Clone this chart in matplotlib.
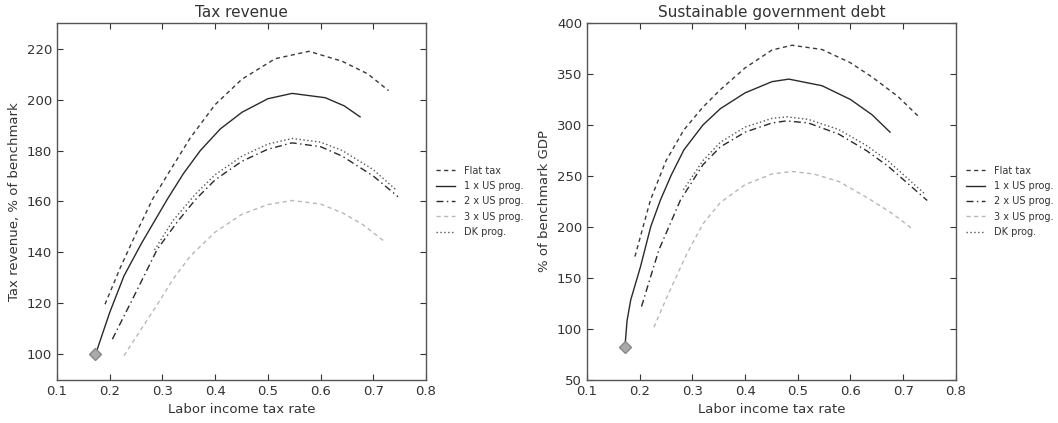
import matplotlib
matplotlib.use("Agg")
import matplotlib.pyplot as plt

# Tax revenue panel (% of benchmark)
rev_flat_x = [0.191, 0.22, 0.25, 0.281, 0.32, 0.353, 0.40, 0.451, 0.514, 0.578, 0.641, 0.69, 0.729]
rev_flat_y = [119.7, 134.0, 147.5, 160.8, 174.0, 185.0, 198.0, 208.0, 216.0, 218.9, 215.0, 210.0, 203.5]

rev_us1_x = [0.173, 0.20, 0.227, 0.26, 0.309, 0.34, 0.372, 0.41, 0.451, 0.50, 0.546, 0.609, 0.645, 0.675]
rev_us1_y = [100.0, 116.5, 130.8, 143.5, 160.8, 171.0, 180.0, 188.5, 195.0, 200.3, 202.4, 200.7, 197.5, 193.2]

rev_us2_x = [0.205, 0.25, 0.290, 0.33, 0.363, 0.40, 0.451, 0.50, 0.546, 0.60, 0.641, 0.70, 0.747]
rev_us2_y = [106.0, 124.5, 141.2, 152.5, 160.8, 168.5, 175.8, 180.5, 183.0, 181.5, 177.8, 170.0, 161.9]

rev_us3_x = [0.227, 0.26, 0.290, 0.32, 0.353, 0.40, 0.451, 0.50, 0.546, 0.60, 0.641, 0.68, 0.720]
rev_us3_y = [99.5, 110.0, 119.5, 129.5, 138.6, 148.0, 155.0, 158.8, 160.4, 159.0, 155.6, 151.0, 144.5]

rev_dk_x = [0.285, 0.32, 0.363, 0.40, 0.451, 0.50, 0.546, 0.60, 0.641, 0.70, 0.742]
rev_dk_y = [141.0, 152.5, 163.0, 170.5, 177.8, 182.5, 184.7, 183.3, 180.0, 172.5, 164.8]

# Sustainable government debt panel (% of benchmark GDP)
debt_flat_x = [0.191, 0.2205, 0.25, 0.284, 0.32, 0.353, 0.40, 0.451, 0.489, 0.546, 0.60, 0.641, 0.69, 0.729]
debt_flat_y = [171.0, 226.6, 265.0, 295.3, 317.5, 334.6, 356.0, 373.5, 378.2, 374.0, 361.0, 347.0, 328.0, 308.4]

debt_us1_x = [0.172, 0.176, 0.183, 0.2015, 0.221, 0.2395, 0.26, 0.284, 0.32, 0.353, 0.40, 0.451, 0.483, 0.546, 0.60, 0.641, 0.675]
debt_us1_y = [82.0, 108.0, 128.5, 161.0, 200.4, 226.6, 251.0, 275.7, 300.0, 316.0, 331.5, 342.5, 345.0, 338.5, 325.0, 310.0, 293.0]

debt_us2_x = [0.2035, 0.22, 0.2365, 0.2775, 0.32, 0.353, 0.40, 0.451, 0.478, 0.52, 0.578, 0.63, 0.672, 0.7455]
debt_us2_y = [122.0, 150.0, 177.6, 226.6, 261.0, 278.5, 293.0, 302.0, 304.0, 302.0, 291.0, 275.0, 259.3, 226.0]

debt_us3_x = [0.227, 0.252, 0.290, 0.320, 0.353, 0.40, 0.451, 0.489, 0.53, 0.578, 0.634, 0.68, 0.718]
debt_us3_y = [101.7, 131.7, 174.3, 203.0, 224.0, 241.5, 252.0, 254.4, 252.0, 244.6, 228.0, 213.0, 197.9]

debt_dk_x = [0.283, 0.32, 0.353, 0.40, 0.451, 0.480, 0.52, 0.578, 0.63, 0.672, 0.743]
debt_dk_y = [236.5, 265.0, 283.0, 298.0, 306.5, 308.0, 305.5, 295.5, 280.0, 264.5, 231.5]

# benchmark point
bench_x = 0.172
bench_rev = 100.0
bench_debt = 82.0

labels = ["Flat tax", "1 x US prog.", "2 x US prog.", "3 x US prog.", "DK prog."]
colors = ["#3a3a3a", "#2a2a2a", "#2a2a2a", "#b8b8b8", "#555555"]
dashes = [(3, 2.5), (), (5, 2.5, 1, 2.5), (3, 2.5), (1, 1.8)]

text_col = "#333333"
plt.rcParams["font.family"] = "DejaVu Sans"
plt.rcParams["font.size"] = 9

fig = plt.figure(figsize=(10.58, 4.23), dpi=100)
ax1 = fig.add_axes([0.0539, 0.1017, 0.3487, 0.8439])
ax2 = fig.add_axes([0.5548, 0.1017, 0.3487, 0.8439])


def draw(ax, series, bench_y):
    for (xs, ys), lab, col, ds in zip(series, labels, colors, dashes):
        line, = ax.plot(xs, ys, color=col, lw=1.0, label=lab)
        if ds:
            line.set_dashes(ds)
    ax.plot([bench_x], [bench_y], marker="D", ms=6, color="#aaaaaa",
            markeredgecolor="#888888", linestyle="none")
    ax.set_xlim(0.1, 0.8)
    ax.tick_params(direction="in", top=True, right=True, colors=text_col,
                   labelsize=9.5, length=4, width=0.8)
    for sp in ax.spines.values():
        sp.set_color("#555555")
        sp.set_linewidth(1.0)
    ax.set_xlabel("Labor income tax rate", color=text_col, fontsize=9.5)
    leg = ax.legend(loc="center left", bbox_to_anchor=(1.0, 0.5), frameon=False,
                    fontsize=7, handlelength=2.0, labelspacing=0.55,
                    borderaxespad=0.6, handletextpad=0.9)
    for t in leg.get_texts():
        t.set_color(text_col)


draw(ax1, [(rev_flat_x, rev_flat_y), (rev_us1_x, rev_us1_y), (rev_us2_x, rev_us2_y),
           (rev_us3_x, rev_us3_y), (rev_dk_x, rev_dk_y)], bench_rev)
ax1.set_ylim(90, 230)
ax1.set_yticks(range(100, 221, 20))
ax1.set_ylabel("Tax revenue, % of benchmark", color=text_col, fontsize=9.5)
ax1.set_title("Tax revenue", color=text_col, fontsize=11, pad=4)

draw(ax2, [(debt_flat_x, debt_flat_y), (debt_us1_x, debt_us1_y), (debt_us2_x, debt_us2_y),
           (debt_us3_x, debt_us3_y), (debt_dk_x, debt_dk_y)], bench_debt)
ax2.set_ylim(50, 400)
ax2.set_yticks(range(50, 401, 50))
ax2.set_ylabel("% of benchmark GDP", color=text_col, fontsize=9.5)
ax2.set_title("Sustainable government debt", color=text_col, fontsize=11, pad=4)

fig.savefig("out.png", dpi=100, facecolor="white")
